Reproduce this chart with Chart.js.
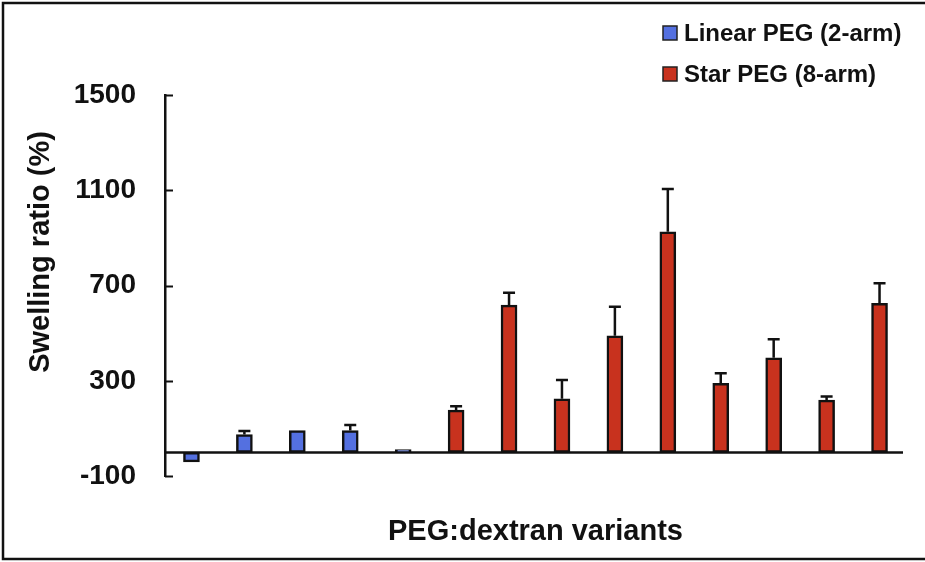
<!DOCTYPE html>
<html>
<head>
<meta charset="utf-8">
<script src="https://cdn.jsdelivr.net/npm/chart.js@4/dist/chart.umd.min.js"></script>
<style>
  html, body { margin: 0; padding: 0; background: #fff; }
  #wrap { width: 925px; height: 562px; position: relative; }
</style>
</head>
<body>
<div id="wrap"><canvas id="myChart"></canvas></div>
<script>
const variants = ["V1", "V2", "V3", "V4", "V5", "V6", "V7", "V8", "V9", "V10", "V11", "V12", "V13", "V14"];
const linearPEG = [-40, 75, 92, 92, 12, null, null, null, null, null, null, null, null, null];
const linearErr = [0, 15, 0, 23, 0, null, null, null, null, null, null, null, null, null];
const starPEG = [null, null, null, null, null, 177, 618, 225, 489, 926, 290, 397, 219, 626];
const starErr = [null, null, null, null, null, 17, 52, 79, 122, 179, 42, 78, 15, 84];
const yTicks = [-100, 300, 700, 1100, 1500];

const boldFont = "'Liberation Sans', Arial, sans-serif";

// error bars, zero line, inward ticks, frame, legend and y title
const extras = {
  id: "extras",
  beforeDraw(chart) {
    const c = chart.ctx;
    c.save();
    c.fillStyle = "#fff";
    c.fillRect(0, 0, chart.width, chart.height);
    c.strokeStyle = "#111";
    c.lineWidth = 2.5;
    c.beginPath();
    c.moveTo(925, 3);
    c.lineTo(3, 3);
    c.lineTo(3, 559);
    c.lineTo(925, 559);
    c.stroke();
    c.restore();
  },
  beforeDatasetsDraw(chart) {
    const c = chart.ctx;
    const y = chart.scales.y;
    const area = chart.chartArea;
    c.save();
    c.strokeStyle = "#111";
    c.lineWidth = 2.5;
    c.beginPath();
    c.moveTo(area.left, y.getPixelForValue(0));
    c.lineTo(area.right - 3, y.getPixelForValue(0));
    c.stroke();
    c.lineWidth = 2;
    y.ticks.forEach((t) => {
      const py = Math.round(y.getPixelForValue(t.value)) + 0.5;
      c.beginPath();
      c.moveTo(area.left, py);
      c.lineTo(area.left + 8, py);
      c.stroke();
    });
    c.restore();
  },
  afterDatasetsDraw(chart) {
    const c = chart.ctx;
    const y = chart.scales.y;
    const errs = [linearErr, starErr];
    c.save();
    c.strokeStyle = "#111";
    c.lineWidth = 2.5;
    chart.data.datasets.forEach((ds, d) => {
      const meta = chart.getDatasetMeta(d);
      ds.data.forEach((v, i) => {
        const e = errs[d][i];
        if (v === null || !e || v <= 0) return;
        const bar = meta.data[i];
        const top = y.getPixelForValue(v);
        const cap = y.getPixelForValue(v + e);
        c.beginPath();
        c.moveTo(bar.x, top);
        c.lineTo(bar.x, cap);
        c.moveTo(bar.x - 6, cap);
        c.lineTo(bar.x + 6, cap);
        c.stroke();
      });
    });
    c.restore();
  },
  afterDraw(chart) {
    const c = chart.ctx;
    c.save();
    // y axis title
    c.fillStyle = "#111";
    c.font = "bold 29px " + boldFont;
    c.textAlign = "center";
    c.textBaseline = "middle";
    c.translate(41, 252);
    c.rotate(-Math.PI / 2);
    c.fillText("Swelling ratio (%)", 0, 0);
    c.restore();

    // legend
    c.save();
    c.font = "bold 24px " + boldFont;
    c.textBaseline = "middle";
    const rows = [33, 74];
    chart.data.datasets.forEach((ds, d) => {
      const cy = rows[d];
      c.fillStyle = ds.backgroundColor;
      c.fillRect(663, cy - 7, 14, 14);
      c.strokeStyle = "#222";
      c.lineWidth = 1.5;
      c.strokeRect(663, cy - 7, 14, 14);
      c.fillStyle = "#111";
      c.fillText(ds.label, 684, cy + 1);
    });
    c.restore();
  }
};

function renderChart() {
  const ctx = document.getElementById("myChart");
  const config = {
    type: "bar",
    data: {
      labels: variants,
      datasets: [
        {
          label: "Linear PEG (2-arm)",
          data: linearPEG,
          backgroundColor: "#5470e0",
          borderColor: "#111",
          borderWidth: 2.5,
          borderSkipped: false,
          barThickness: 16,
          grouped: false,
        },
        {
          label: "Star PEG (8-arm)",
          data: starPEG,
          backgroundColor: "#c8321e",
          borderColor: "#111",
          borderWidth: 2.5,
          borderSkipped: false,
          barThickness: 16,
          grouped: false,
        },
      ],
    },
    options: {
      responsive: false,
      animation: false,
      layout: { padding: { top: 95, right: 19, bottom: 4, left: 0 } },
      plugins: {
        legend: { display: false },
        tooltip: { enabled: false },
      },
      scales: {
        x: {
          ticks: { display: false },
          grid: { display: false },
          border: { display: false },
          title: {
            display: true,
            text: "PEG:dextran variants",
            color: "#111",
            font: { family: boldFont, size: 29, weight: "bold" },
            padding: { top: 30, bottom: 9 },
          },
        },
        y: {
          min: yTicks[0],
          max: yTicks[yTicks.length - 1],
          afterBuildTicks(scale) {
            scale.ticks = yTicks.map((v) => ({ value: v }));
          },
          afterFit(scale) {
            scale.width = 165;
          },
          ticks: {
            color: "#111",
            padding: 29,
            font: { family: boldFont, size: 28, weight: "bold" },
            callback: (v) => String(v),
          },
          grid: { drawOnChartArea: false, drawTicks: false },
          border: { display: true, color: "#111", width: 2.5 },
        },
      },
    },
    plugins: [extras],
  };
  ctx.width = 925;
  ctx.height = 562;
  new Chart(ctx, config);
}

renderChart();
</script>
</body>
</html>
